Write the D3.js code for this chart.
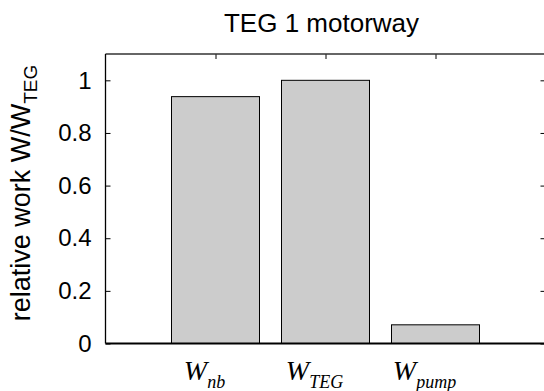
<!DOCTYPE html>
<html>
<head>
<meta charset="utf-8">
<script src="https://cdn.jsdelivr.net/npm/d3@7"></script>
<style>
  body { margin: 0; background: #fff; }
  svg { display: block; font-family: Arial, 'Liberation Sans', sans-serif; }
  .cat-label { font-family: 'Times New Roman', 'Liberation Serif', serif; font-style: italic; }
</style>
</head>
<body>
<div id="chart"></div>
<script>
// chart data
let categories = ['nb', 'TEG', 'pump'];
let values = [0.938, 1.0, 0.071];
let yTicks = [0, 0.2, 0.4, 0.6, 0.8, 1];
let title = 'TEG 1 motorway';

let width = 544;
let height = 391;

let svg = d3.select('#chart').append('svg')
  .attr('width', width)
  .attr('height', height);

// x positions follow matlab bar(): categories at 1..n, xlim [0 n+1]
let x = d3.scaleLinear().domain([0, categories.length + 1]).range([105.5, 545.5]);
let y = d3.scaleLinear().domain([0, 1.1]).range([343.5, 54]);
let barW = (x(1) - x(0)) * 0.8;

// bars
svg.append('g').selectAll('rect')
  .data(values)
  .enter().append('rect')
    .attr('x', (d, i) => x(i + 1) - barW / 2)
    .attr('y', d => y(d))
    .attr('width', barW)
    .attr('height', d => y(0) - y(d))
    .attr('fill', '#cccccc')
    .attr('stroke', '#000')
    .attr('stroke-width', 1);

// left axis, ticks pointing inward
let leftAxis = svg.append('g').attr('transform', 'translate(' + x(0) + ',0)')
  .call(d3.axisLeft(y).tickValues(yTicks).tickSize(-5).tickPadding(14)
    .tickFormat(d => d3.format('')(d)));
leftAxis.select('.domain').remove();
leftAxis.selectAll('text').attr('font-size', 24).attr('fill', '#000').attr('font-family', 'Arial, Liberation Sans, sans-serif');

// right axis ticks
let rightAxis = svg.append('g').attr('transform', 'translate(' + x(categories.length + 1) + ',0)')
  .call(d3.axisRight(y).tickValues(yTicks).tickSize(-5).tickFormat(''));
rightAxis.select('.domain').remove();

// top ticks
let topAxis = svg.append('g').attr('transform', 'translate(0,' + y(1.1) + ')')
  .call(d3.axisTop(x).tickValues(d3.range(1, categories.length + 1)).tickSize(-5).tickFormat(''));
topAxis.select('.domain').remove();

svg.selectAll('.tick line').attr('stroke', '#000').attr('stroke-width', 1);

// box
svg.append('line')
  .attr('x1', x(0)).attr('x2', x(categories.length + 1))
  .attr('y1', y(0)).attr('y2', y(0))
  .attr('stroke', '#000').attr('stroke-width', 2);
svg.append('line')
  .attr('x1', x(0)).attr('x2', x(categories.length + 1))
  .attr('y1', y(1.1)).attr('y2', y(1.1))
  .attr('stroke', '#333').attr('stroke-width', 1.5);
svg.append('line')
  .attr('x1', x(0)).attr('x2', x(0))
  .attr('y1', y(0)).attr('y2', y(1.1))
  .attr('stroke', '#000').attr('stroke-width', 1.3);

// category labels W_sub
let cat = svg.append('g').selectAll('text')
  .data(categories)
  .enter().append('text')
    .attr('class', 'cat-label')
    .attr('x', (d, i) => x(i + 1) - 11)
    .attr('y', 380)
    .attr('text-anchor', 'middle')
    .attr('fill', '#000');
cat.append('tspan').attr('font-size', 28).text('W');
cat.append('tspan').attr('font-size', 18).attr('dy', 8).text(d => d);

// title
svg.append('text')
  .attr('x', (x(0) + x(categories.length + 1)) / 2 - 4)
  .attr('y', 32)
  .attr('text-anchor', 'middle')
  .attr('font-size', 26)
  .attr('fill', '#000')
  .text(title);

// y label
let ylab = svg.append('text')
  .attr('transform', 'translate(30,193) rotate(-90)')
  .attr('text-anchor', 'middle')
  .attr('font-size', 27)
  .attr('fill', '#000');
ylab.append('tspan').text('relative work W/W');
ylab.append('tspan').attr('font-size', 19).attr('dy', 7).text('TEG');
</script>
</body>
</html>
